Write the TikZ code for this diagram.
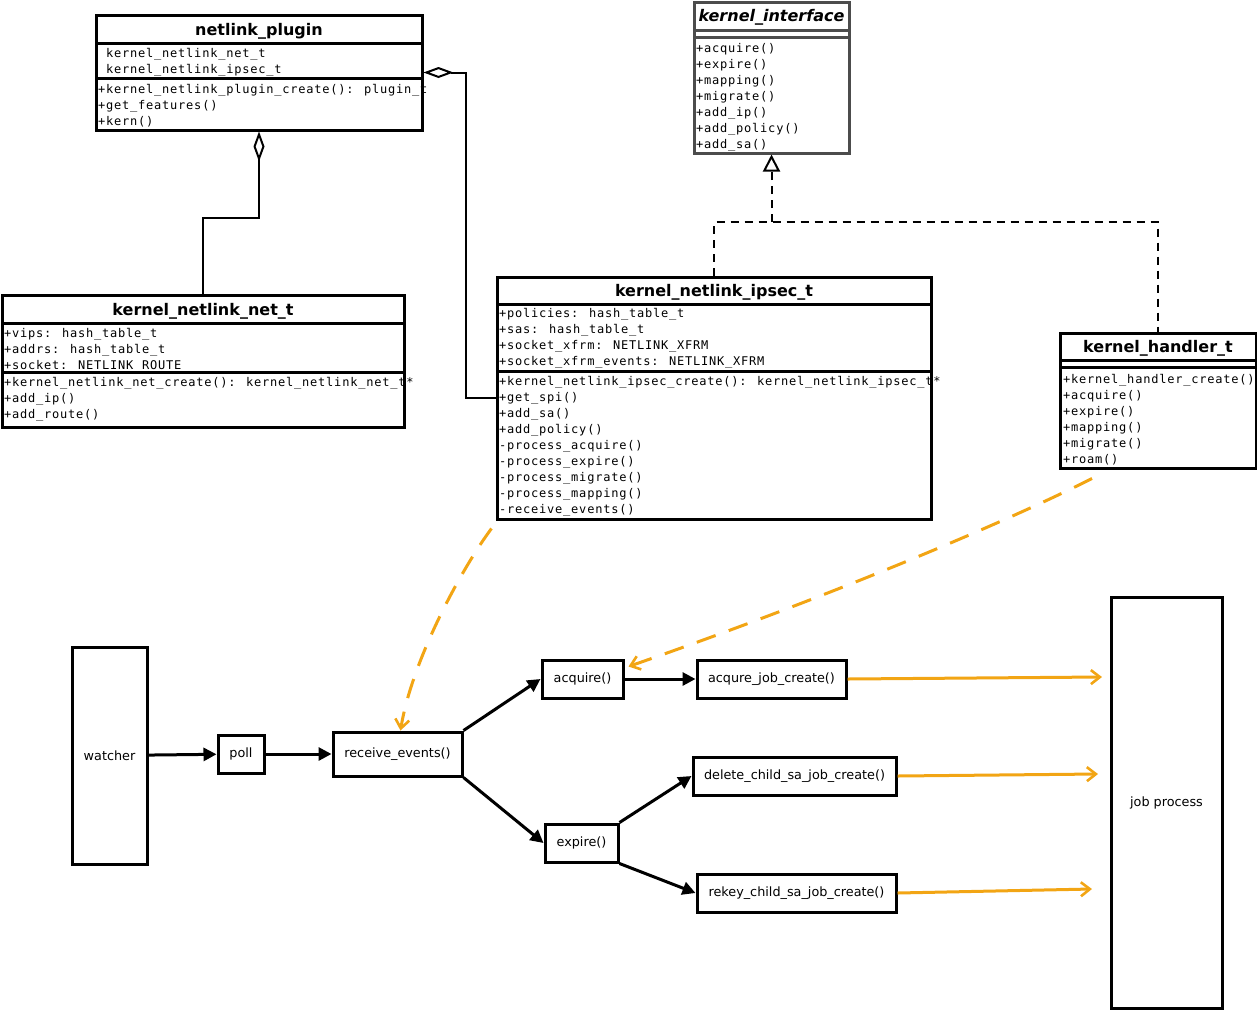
\documentclass[tikz,border=0pt]{standalone}
\usepackage{fontspec}
\setmainfont{DejaVu Sans}
\setmonofont{DejaVu Sans Mono}
\newfontfamily\umlmono[LetterSpace=6.5]{DejaVu Sans Mono}
\usetikzlibrary{arrows.meta}
\definecolor{joborange}{RGB}{242,165,20}
\tikzset{umlbox/.style = {draw, line width=3pt, inner sep=0pt}}
\tikzset{umlsep/.style = {line width=3pt}}
\tikzset{umltitle/.style = {font=\fontsize{16}{18}\selectfont\bfseries, inner sep=0pt, anchor=base}}
\tikzset{umltext/.style = {font=\fontsize{12}{16}\selectfont\umlmono, align=left, inner sep=0pt, anchor=base west}}
\tikzset{aggr/.style = {line width=2pt, {Diamond[open, length=30pt, width=11pt, line width=2pt]}-}}
\tikzset{realize/.style = {line width=2pt, dash pattern=on 8pt off 6pt}}
\tikzset{procbox/.style = {draw, line width=3pt, inner sep=0pt, font=\fontsize{12.8}{15}\selectfont}}
\tikzset{call/.style = {line width=3pt, -{Triangle[length=13pt, width=13pt]}}}
\tikzset{jobcall/.style = {joborange, line width=3pt, -{Straight Barb[length=9pt, width=14pt, line width=2.6pt]}}}
\tikzset{hook/.style = {jobcall, dash pattern=on 20pt off 14pt}}

\begin{document}
\begin{tikzpicture}[x=1pt, y=-1pt]
  \useasboundingbox (0,0) rectangle (1257,1010);

  \node[umlbox, minimum width=326pt, minimum height=115pt] (plugin) at (259,72.5) {};
  \draw[umlsep] (96,43) -- (422,43);
  \draw[umlsep] (96,78) -- (422,78);
  \node[umltitle] (plugin-title) at (259,35) {netlink\_plugin};
  \node[umltext] (plugin-attr) at (106,73) {kernel\_netlink\_net\_t\\kernel\_netlink\_ipsec\_t};
  \node[umltext] (plugin-op) at (98,125) {+kernel\_netlink\_plugin\_create(): plugin\_t\\+get\_features()\\+kern()};

  \node[umlbox, draw=black!70, minimum width=155pt, minimum height=151pt] (iface) at (771.5,77.5) {};
  \draw[umlsep, black!70] (694,30) -- (849,30);
  \draw[umlsep, black!70] (694,37) -- (849,37);
  \node[umltitle, font=\fontsize{16}{18}\selectfont\bfseries\itshape] (iface-title) at (771.5,21) {kernel\_interface};
  \node[umltext] (iface-op) at (696,148) {+acquire()\\+expire()\\+mapping()\\+migrate()\\+add\_ip()\\+add\_policy()\\+add\_sa()};

  \node[umlbox, minimum width=402pt, minimum height=132pt] (net) at (203,361) {};
  \draw[umlsep] (2,323) -- (404,323);
  \draw[umlsep] (2,372) -- (404,372);
  \node[umltitle] (net-title) at (203,315) {kernel\_netlink\_net\_t};
  \node[umltext] (net-attr) at (4,369) {+vips: hash\_table\_t\\+addrs: hash\_table\_t\\+socket: NETLINK\_ROUTE};
  \node[umltext] (net-op) at (4,418) {+kernel\_netlink\_net\_create(): kernel\_netlink\_net\_t*\\+add\_ip()\\+add\_route()};

  \node[umlbox, minimum width=434pt, minimum height=242pt] (ipsec) at (714,398) {};
  \draw[umlsep] (497,304) -- (931,304);
  \draw[umlsep] (497,371) -- (931,371);
  \node[umltitle] (ipsec-title) at (714,296) {kernel\_netlink\_ipsec\_t};
  \node[umltext] (ipsec-attr) at (499,365) {+policies: hash\_table\_t\\+sas: hash\_table\_t\\+socket\_xfrm: NETLINK\_XFRM\\+socket\_xfrm\_events: NETLINK\_XFRM};
  \node[umltext] (ipsec-op) at (499,513) {+kernel\_netlink\_ipsec\_create(): kernel\_netlink\_ipsec\_t*\\+get\_spi()\\+add\_sa()\\+add\_policy()\\-process\_acquire()\\-process\_expire()\\-process\_migrate()\\-process\_mapping()\\-receive\_events()};

  \node[umlbox, minimum width=196pt, minimum height=135pt] (handler) at (1158,400.5) {};
  \draw[umlsep] (1060,360) -- (1256,360);
  \draw[umlsep] (1060,367) -- (1256,367);
  \node[umltitle] (handler-title) at (1158,352) {kernel\_handler\_t};
  \node[umltext] (handler-op) at (1063,463) {+kernel\_handler\_create()\\+acquire()\\+expire()\\+mapping()\\+migrate()\\+roam()};

  \draw[aggr] (plugin.south) -- (259,218) -| (net.north);
  \draw[aggr] (plugin.east) -- (466,72.5) |- (ipsec.west);

  \coordinate (split) at (771.5,222);
  \draw[realize] (ipsec.north) |- (split) -| (handler.north);
  \draw[realize, -{Triangle[open, length=17pt, width=17pt, line width=2pt]}] (split) -- (iface.south);

  \node[procbox, minimum width=75pt, minimum height=217pt] (watcher) at (109.5,755.5) {watcher};
  \node[procbox, minimum width=46pt, minimum height=38pt] (poll) at (241,754) {poll};
  \node[procbox, minimum width=129pt, minimum height=44pt] (receive) at (397.5,754) {receive\_events()};
  \node[procbox, minimum width=81pt, minimum height=38pt] (acquire) at (582.5,679) {acquire()};
  \node[procbox, minimum width=149pt, minimum height=38pt] (acqjob) at (771.5,679) {acqure\_job\_create()};
  \node[procbox, minimum width=73pt, minimum height=38pt] (expire) at (581.5,843) {expire()};
  \node[procbox, minimum width=203pt, minimum height=38pt] (delete) at (794.5,776) {delete\_child\_sa\_job\_create()};
  \node[procbox, minimum width=199pt, minimum height=38pt] (rekey) at (796.5,893) {rekey\_child\_sa\_job\_create()};
  \node[procbox, minimum width=111pt, minimum height=411pt] (jobproc) at (1166.5,802.5) {job process};

  \draw[call] (watcher) -- (poll);
  \draw[call] (poll) -- (receive);
  \draw[call] (receive.north east) -- (acquire.west);
  \draw[call] (receive.south east) -- (expire.west);
  \draw[call] (acquire) -- (acqjob);
  \draw[call] (expire.north east) -- (delete.west);
  \draw[call] (expire.south east) -- (rekey.west);

  \coordinate (job-in1) at (1102,677);
  \coordinate (job-in2) at (1098,774);
  \coordinate (job-in3) at (1092,889);
  \draw[jobcall] (acqjob.east) -- (job-in1);
  \draw[jobcall] (delete.east) -- (job-in2);
  \draw[jobcall] (rekey.east) -- (job-in3);

  \draw[hook] ([xshift=-4pt, yshift=-8pt]ipsec.south west) .. controls (462,568) and (412,660) .. ([xshift=3pt]receive.north);
  \draw[hook] ([xshift=-66pt, yshift=-9pt]handler.south) .. controls (1000,525) and (820,600) .. ([xshift=4pt, yshift=-8pt]acquire.north east);
\end{tikzpicture}
\end{document}
